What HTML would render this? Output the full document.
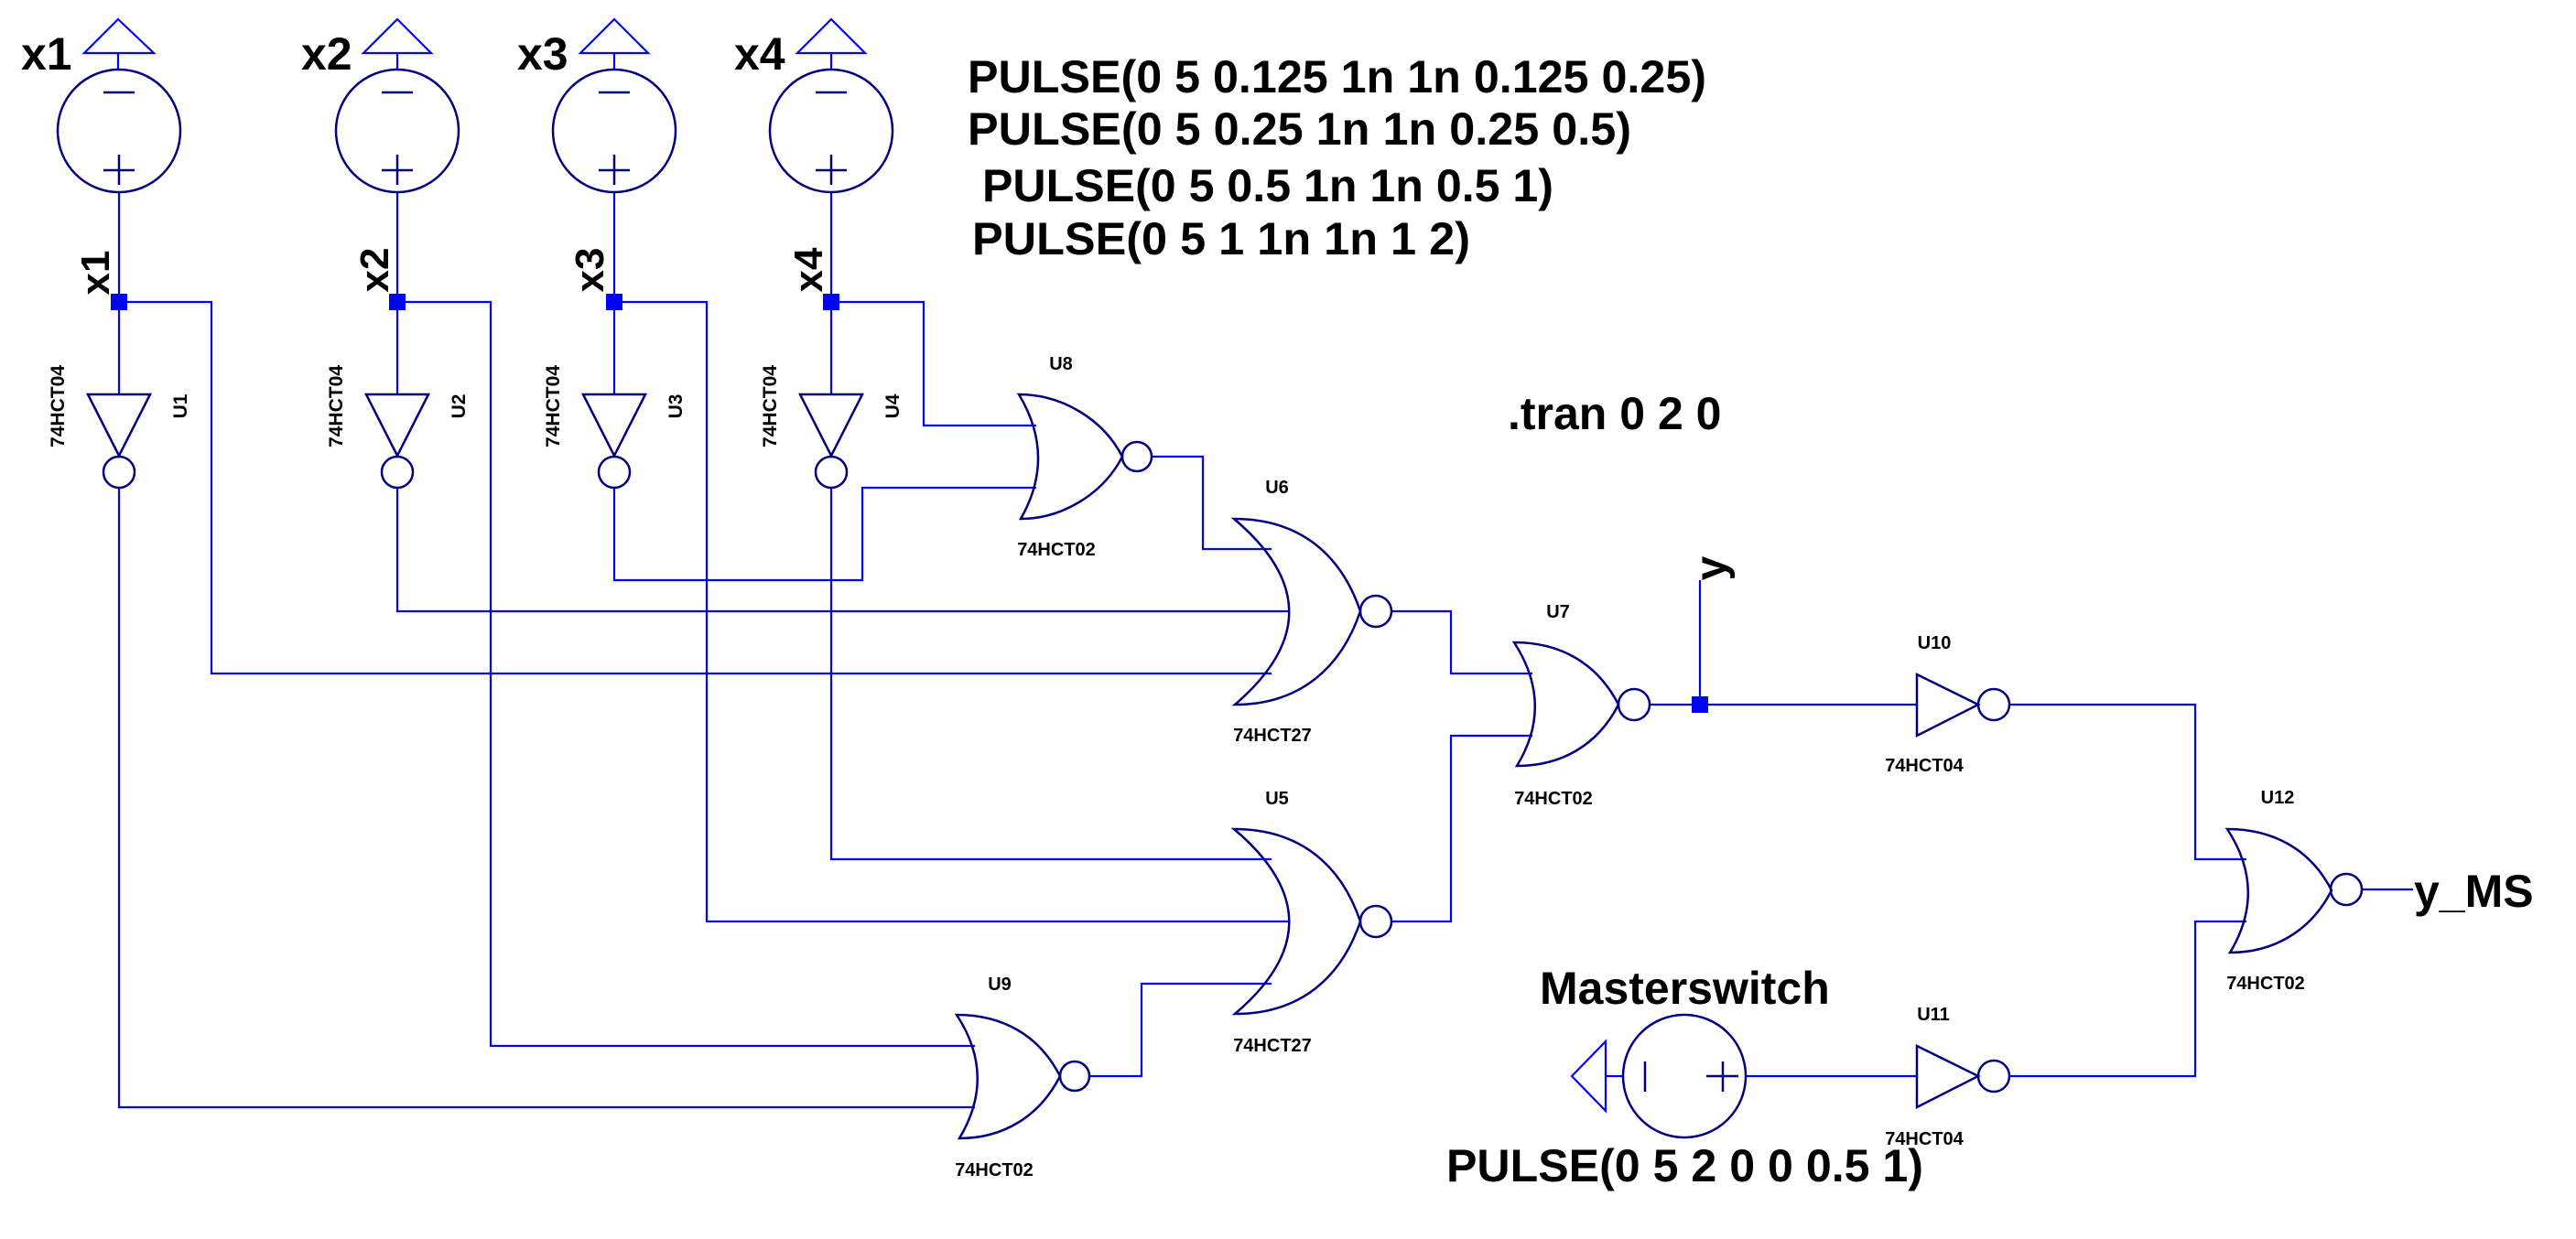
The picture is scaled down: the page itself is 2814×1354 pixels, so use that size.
<!DOCTYPE html>
<html><head><meta charset="utf-8"><style>html,body{margin:0;padding:0;background:#fff}svg{display:block}</style></head>
<body>
<svg xmlns="http://www.w3.org/2000/svg" width="2814" height="1354" viewBox="0 0 2814 1354">
<rect width="2814" height="1354" fill="#fff"/>
<g font-family="Liberation Sans, Arial, sans-serif" font-weight="bold" fill="#000">
<!-- top source labels -->
<text x="23" y="76" font-size="50">x1</text>
<text x="329" y="76" font-size="50">x2</text>
<text x="565" y="76" font-size="50">x3</text>
<text x="802" y="76" font-size="50">x4</text>
<!-- net labels rotated -->
<text transform="translate(119,298) rotate(-90)" font-size="44" text-anchor="middle">x1</text>
<text transform="translate(424,295) rotate(-90)" font-size="44" text-anchor="middle">x2</text>
<text transform="translate(659,295) rotate(-90)" font-size="44" text-anchor="middle">x3</text>
<text transform="translate(898,295) rotate(-90)" font-size="44" text-anchor="middle">x4</text>
<text transform="translate(1885,621) rotate(-90)" font-size="48" text-anchor="middle">y</text>
<!-- inverter labels rotated -->
<g font-size="21">
<text transform="translate(70,444) rotate(-90)" text-anchor="middle">74HCT04</text>
<text transform="translate(374,444) rotate(-90)" text-anchor="middle">74HCT04</text>
<text transform="translate(611,444) rotate(-90)" text-anchor="middle">74HCT04</text>
<text transform="translate(848,444) rotate(-90)" text-anchor="middle">74HCT04</text>
<text transform="translate(204,444) rotate(-90)" text-anchor="middle">U1</text>
<text transform="translate(508,444) rotate(-90)" text-anchor="middle">U2</text>
<text transform="translate(745,444) rotate(-90)" text-anchor="middle">U3</text>
<text transform="translate(982,444) rotate(-90)" text-anchor="middle">U4</text>
</g>
<!-- PULSE texts -->
<g font-size="50">
<text x="1057" y="101" textLength="807" lengthAdjust="spacingAndGlyphs">PULSE(0 5 0.125 1n 1n 0.125 0.25)</text>
<text x="1057" y="158" textLength="725" lengthAdjust="spacingAndGlyphs">PULSE(0 5 0.25 1n 1n 0.25 0.5)</text>
<text x="1073" y="220" textLength="624" lengthAdjust="spacingAndGlyphs">PULSE(0 5 0.5 1n 1n 0.5 1)</text>
<text x="1062" y="278" textLength="544" lengthAdjust="spacingAndGlyphs">PULSE(0 5 1 1n 1n 1 2)</text>
<text x="1647" y="469">.tran 0 2 0</text>
<text x="1682" y="1097">Masterswitch</text>
<text x="1580" y="1291" textLength="521" lengthAdjust="spacingAndGlyphs">PULSE(0 5 2 0 0 0.5 1)</text>
<text x="2637" y="991">y_MS</text>
</g>
<!-- part labels -->
<g font-size="20" text-anchor="middle">
<text x="1159" y="404">U8</text><text x="1154" y="607">74HCT02</text>
<text x="1395" y="539">U6</text><text x="1390" y="810">74HCT27</text>
<text x="1702" y="675">U7</text><text x="1697" y="879">74HCT02</text>
<text x="1395" y="879">U5</text><text x="1390" y="1149">74HCT27</text>
<text x="1092" y="1082">U9</text><text x="1086" y="1285">74HCT02</text>
<text x="2113" y="709">U10</text><text x="2102" y="843">74HCT04</text>
<text x="2112" y="1115">U11</text><text x="2102" y="1251">74HCT04</text>
<text x="2488" y="878">U12</text><text x="2475" y="1081">74HCT02</text>
</g>
</g>

<!-- wires -->
<g stroke="#0000ff" stroke-width="2.2" fill="none">
<!-- ground/flag triangles -->
<path d="M129,21 L92,58 L168,58 Z"/>
<path d="M434,21 L397,58 L471,58 Z"/>
<path d="M671,21 L634,58 L708,58 Z"/>
<path d="M908,21 L871,58 L945,58 Z"/>
<path d="M1717,1176 L1754,1138 L1754,1214 Z"/>
<!-- source to inverter -->
<path d="M130,211 V431 M434,211 V431 M671,211 V431 M908,211 V431"/>
<!-- junction right wires -->
<path d="M130,330 H231 V736 H1389"/>
<path d="M434,330 H536 V1143 H1065"/>
<path d="M671,330 H772 V1007 H1408"/>
<path d="M908,330 H1009 V465 H1132"/>
<!-- inverter outputs -->
<path d="M130,533 V1210 H1065"/>
<path d="M434,533 V668 H1408"/>
<path d="M671,533 V634 H942 V533 H1132"/>
<path d="M908,533 V939 H1389"/>
<!-- gate interconnects -->
<path d="M1259,499 H1314 V600 H1389"/>
<path d="M1520,668 H1585 V736 H1674"/>
<path d="M1520,1007 H1585 V804 H1674"/>
<path d="M1191,1176 H1247 V1075 H1389"/>
<path d="M1802,770 H2094"/>
<path d="M1857,770 V634"/>
<path d="M2195,770 H2398 V939 H2454"/>
<path d="M2195,1176 H2398 V1007 H2454"/>
<path d="M1907,1176 H2094"/>
<path d="M1754,1176 H1772"/>
<path d="M2580,972 H2636"/>
<path d="M129,58 V76 M434,58 V76 M671,58 V76 M908,58 V76"/>
</g>
<!-- junction dots -->
<g fill="#0000ff">
<rect x="121" y="321" width="18" height="18"/>
<rect x="425" y="321" width="18" height="18"/>
<rect x="662" y="321" width="18" height="18"/>
<rect x="899" y="321" width="18" height="18"/>
<rect x="1848" y="761" width="18" height="18"/>
</g>

<!-- components -->
<g stroke="#000080" stroke-width="2.5" fill="none">
<!-- sources -->
<circle cx="130" cy="143" r="67"/><circle cx="434" cy="143" r="67"/><circle cx="671" cy="143" r="67"/><circle cx="908" cy="143" r="67"/>
<path d="M113,101 H147 M113,186 H147 M130,169 V202"/>
<path d="M417,101 H451 M417,186 H451 M434,169 V202"/>
<path d="M654,101 H688 M654,186 H688 M671,169 V202"/>
<path d="M891,101 H925 M891,186 H925 M908,169 V202"/>
<circle cx="1840" cy="1176" r="67"/>
<path d="M1797,1160 V1193 M1864,1176 H1899 M1882,1160 V1193"/>
<!-- vertical inverters -->
<path d="M96,431 H164 L130,498 Z"/><circle cx="130" cy="516" r="17"/>
<path d="M400,431 H468 L434,498 Z"/><circle cx="434" cy="516" r="17"/>
<path d="M637,431 H705 L671,498 Z"/><circle cx="671" cy="516" r="17"/>
<path d="M874,431 H942 L908,498 Z"/><circle cx="908" cy="516" r="17"/>
<!-- horizontal inverters -->
<path d="M2094,737 V804 L2161,770 Z"/><circle cx="2178" cy="770" r="17"/>
<path d="M2094,1143 V1210 L2161,1176 Z"/><circle cx="2178" cy="1176" r="17"/>
<!-- U8 -->
<path d="M1113,431 Q1154,499 1115,567 C1160,567 1205,540 1226,499 C1205,458 1160,431 1113,431 Z"/><circle cx="1242" cy="499" r="16"/>
<!-- U6 -->
<path d="M1348,567 Q1468,668 1349,770 C1420,770 1465,730 1486,668 C1465,606 1420,567 1348,567 Z"/><circle cx="1503" cy="668" r="17"/>
<!-- U5 -->
<path d="M1348,906 Q1468,1007 1349,1108 C1420,1108 1465,1069 1486,1007 C1465,945 1420,906 1348,906 Z"/><circle cx="1503" cy="1007" r="17"/>
<!-- U7 -->
<path d="M1654,702 Q1698,770 1657,837 C1705,837 1745,815 1768,770 C1745,725 1705,702 1654,702 Z"/><circle cx="1785" cy="770" r="17"/>
<!-- U9 -->
<path d="M1045,1109 Q1089,1176 1048,1244 C1095,1244 1135,1221 1158,1176 C1135,1131 1095,1109 1045,1109 Z"/><circle cx="1174" cy="1176" r="16"/>
<!-- U12 -->
<path d="M2433,906 Q2477,973 2436,1041 C2483,1041 2524,1018 2547,973 C2524,928 2483,906 2433,906 Z"/><circle cx="2563" cy="972" r="17"/>
</g>
</svg>
</body></html>
